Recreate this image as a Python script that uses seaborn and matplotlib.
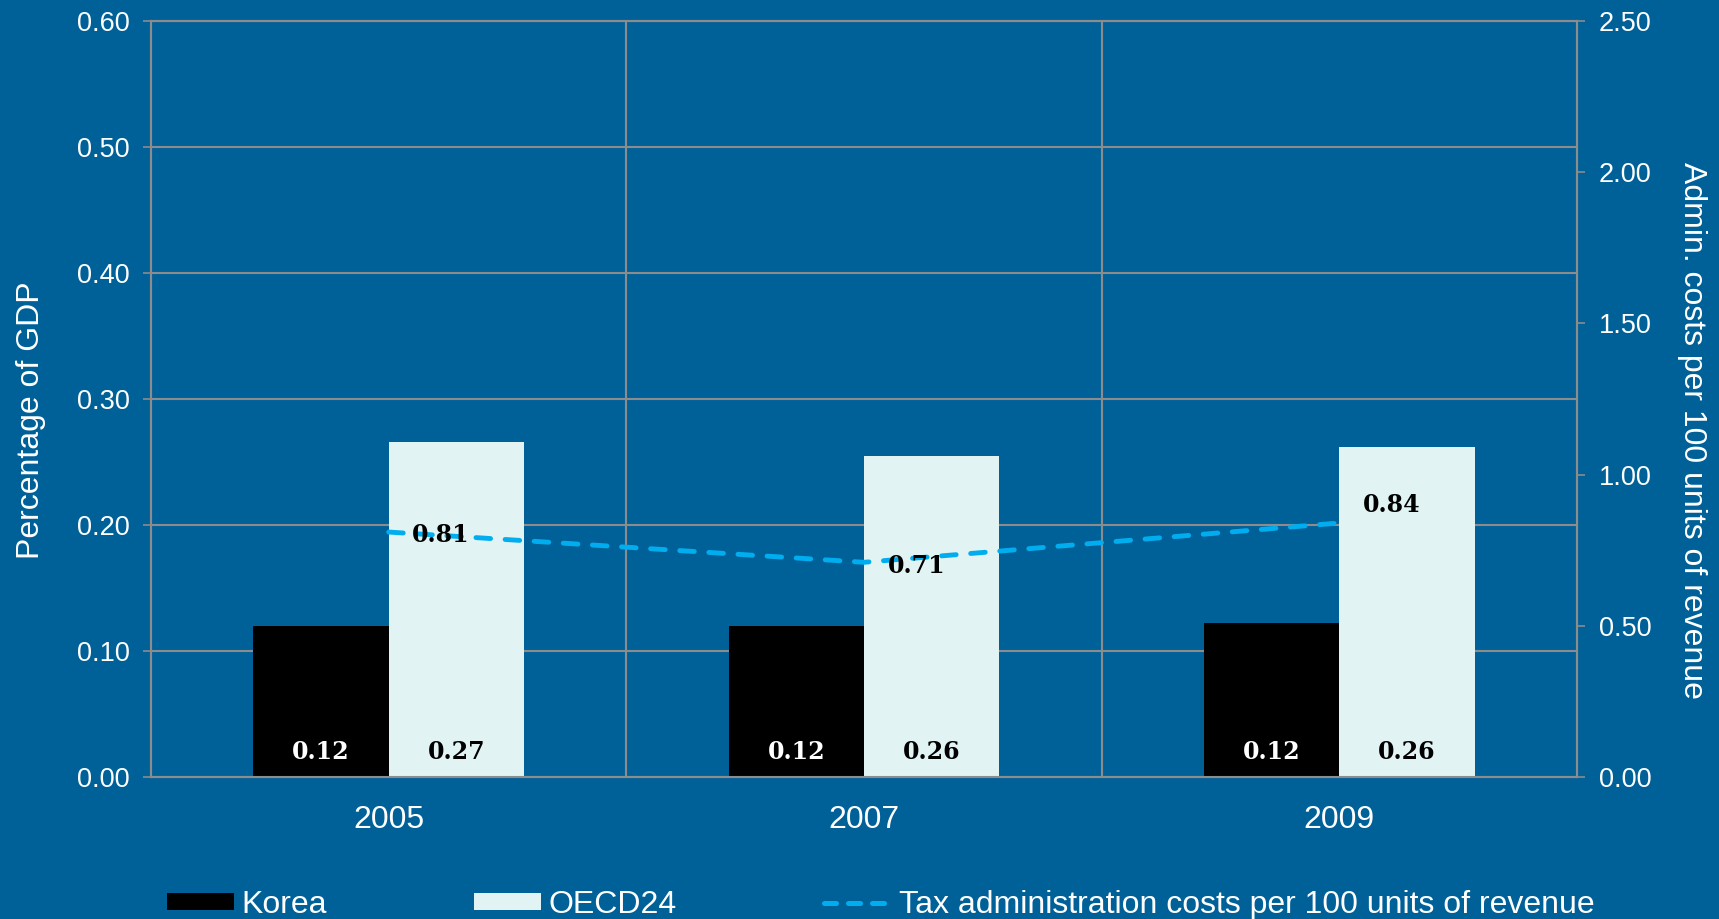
import numpy as np
import pandas as pd
import matplotlib
matplotlib.use("Agg")
import matplotlib.pyplot as plt
from matplotlib.lines import Line2D
from matplotlib.patches import Patch
import seaborn as sns

# Data
years = ["2005", "2007", "2009"]
korea = [0.120, 0.120, 0.122]
oecd24 = [0.266, 0.255, 0.262]
korea_labels = ["0.12", "0.12", "0.12"]
oecd_labels = ["0.27", "0.26", "0.26"]
admin_costs = [0.81, 0.71, 0.84]
series_names = ["Korea", "OECD24"]
line_name = "Tax administration costs per 100 units of revenue"

BG = "#006199"
GRID = "#8C8C8C"
LIGHT = "#E2F3F3"
LINE = "#00AEEF"

sns.set_theme(style="white")
plt.rcParams["font.family"] = ["Liberation Sans", "DejaVu Sans"]

df = pd.DataFrame({
    "year": years * 2,
    "value": korea + oecd24,
    "series": [series_names[0]] * 3 + [series_names[1]] * 3,
})

fig = plt.figure(figsize=(17.19, 9.19), dpi=100, facecolor=BG)
ax = fig.add_axes([151 / 1719, 1 - 777 / 919, (1577 - 151) / 1719, (777 - 21) / 919])
ax.set_facecolor(BG)

sns.barplot(data=df, x="year", y="value", hue="series",
            palette=["black", LIGHT], width=0.57, saturation=1,
            linewidth=0, ax=ax, legend=False, zorder=3)

ax.set_ylim(0, 0.6)
ax.set_xlim(-0.5, 2.5)
ax.set_yticks(np.arange(0, 0.61, 0.1))
ax.set_yticklabels([f"{v:.2f}" for v in np.arange(0, 0.61, 0.1)])
ax.set_xlabel("")
ax.set_ylabel("Percentage of GDP", color="white", fontsize=23, labelpad=22)
ax.yaxis.set_label_coords(-0.0736, 0.472)

# Horizontal grid and category separators
for yv in np.arange(0.1, 0.61, 0.1):
    ax.axhline(yv, color=GRID, lw=1.5, zorder=1)
for xv in [0.5, 1.5]:
    ax.axvline(xv, color=GRID, lw=1.5, zorder=1)

for s in ax.spines.values():
    s.set_color(GRID)
    s.set_linewidth(1.5)

ax.tick_params(axis="y", colors=GRID, labelcolor="white", labelsize=19.5,
               length=5.5, width=1.2, pad=10, direction="out", left=True)
ax.tick_params(axis="x", colors="white", labelsize=23, length=0, pad=20.5)

# Bar value labels
for i in range(3):
    ax.text(i - 0.1425, 0.02, korea_labels[i], ha="center", va="center",
            color="white", fontsize=17, fontweight="bold",
            family="DejaVu Serif", zorder=6)
    ax.text(i + 0.1425, 0.02, oecd_labels[i], ha="center", va="center",
            color="black", fontsize=17, fontweight="bold",
            family="DejaVu Serif", zorder=6)

# Secondary axis: administration costs
ax2 = ax.twinx()
sns.lineplot(x=[0, 1, 2], y=admin_costs, ax=ax2, color=LINE, lw=3.5,
             zorder=5)
ln = ax2.lines[0]
ln.set_dashes((3, 3))
ln.set_dash_capstyle("round")
ax2.set_ylim(0, 2.5)
ax2.set_xlim(-0.5, 2.5)
ax2.set_yticks(np.arange(0, 2.51, 0.5))
ax2.set_yticklabels([f"{v:.2f}" for v in np.arange(0, 2.51, 0.5)])
ax2.set_ylabel("Admin. costs per 100 units of revenue", color="white",
               fontsize=23, rotation=-90, labelpad=40)
ax2.tick_params(axis="y", colors=GRID, labelcolor="white", labelsize=19.5,
                length=5.5, width=1.2, pad=10, direction="out", right=True)
for s in ax2.spines.values():
    s.set_color(GRID)
    s.set_linewidth(1.5)
fig.canvas.draw()
lx = ax2.yaxis.label.get_position()
lx_axes = ax2.transAxes.inverted().transform(
    ax2.yaxis.label.get_transform().transform(lx))
ax2.yaxis.set_label_coords(lx_axes[0], 0.459)

offsets = [-0.01, -0.012, 0.06]
for i, v in enumerate(admin_costs):
    ax2.text(i + 0.11, v + offsets[i], f"{v:.2f}", ha="center", va="center",
             color="black", fontsize=17, fontweight="bold",
             family="DejaVu Serif", zorder=7)

# Legend along the bottom
handles = [
    Patch(facecolor="black", edgecolor="none"),
    Patch(facecolor=LIGHT, edgecolor="none"),
    Line2D([0], [0], color=LINE, lw=3.6, dashes=(2.4, 2.4),
           dash_capstyle="round"),
]
fig.legend(handles, series_names + [line_name], loc="center left",
           bbox_to_anchor=(167 / 1719, 14 / 919), ncol=3, frameon=False,
           fontsize=23, labelcolor="white", handlelength=2.1,
           handleheight=0.47, handletextpad=0.24, columnspacing=4.6,
           borderpad=0, borderaxespad=0)

fig.savefig("out.png", dpi=100, facecolor=BG)
